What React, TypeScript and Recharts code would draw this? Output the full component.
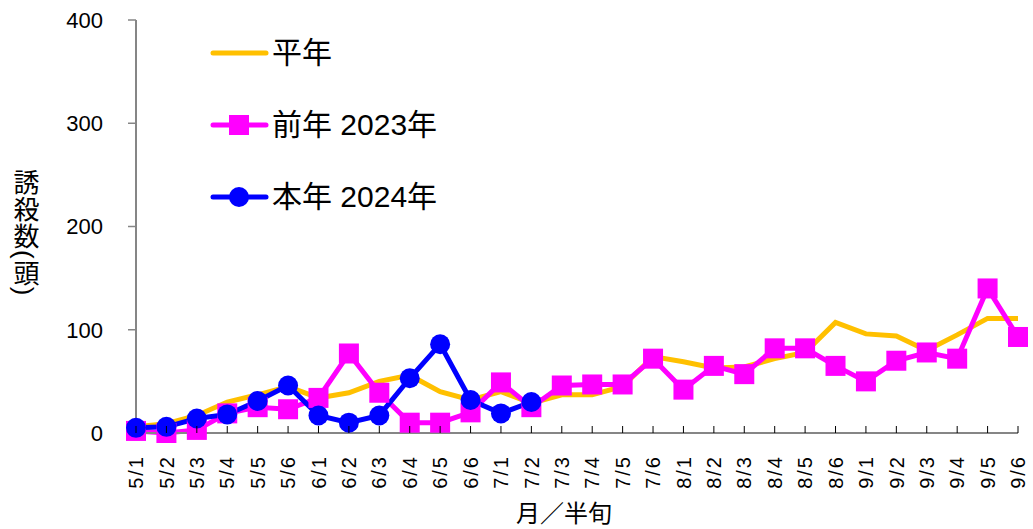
import React from 'react';
import { LineChart, Line, XAxis, YAxis } from 'recharts';

const categories = ['5/1','5/2','5/3','5/4','5/5','5/6','6/1','6/2','6/3','6/4','6/5','6/6','7/1','7/2','7/3','7/4','7/5','7/6','8/1','8/2','8/3','8/4','8/5','8/6','9/1','9/2','9/3','9/4','9/5','9/6'];
const normalYear = [6,9,17,30,37,45,34,39,50,56,40,32,40,29,37,37,45,74,69,63,64,72,78,107,96,94,80,95,111,111];
const prevYear = [2,0,3,19,25,23,34,77,39,10,10,20,49,25,46,47,47,72,42,65,57,82,82,65,50,70,78,72,140,93];
const thisYear: (number | null)[] = [5,6,14,18,31,46,17,10,17,53,86,32,19,30,null,null,null,null,null,null,null,null,null,null,null,null,null,null,null,null];
const yTicks = [0,100,200,300,400];

const seriesNames = ['平年', '前年 2023年', '本年 2024年'];
const colors = ['#FFC000', '#FF00FF', '#0000FF'];

const data = categories.map((c, i) => ({
  cat: c,
  normal: normalYear[i],
  prev: prevYear[i],
  cur: thisYear[i],
}));

const FONT = "'Liberation Sans', 'Noto Sans CJK JP', sans-serif";

const SquareDot = (props: any) => {
  const { cx, cy, index } = props;
  if (cx == null || cy == null || isNaN(cy)) return <g key={index} />;
  return <rect key={index} x={cx - 10} y={cy - 10} width={20} height={20} fill="#FF00FF" />;
};

const CircleDot = (props: any) => {
  const { cx, cy, index } = props;
  if (cx == null || cy == null || isNaN(cy)) return <g key={index} />;
  return <circle key={index} cx={cx} cy={cy} r={10} fill="#0000FF" />;
};

const XTick = (props: any) => {
  const { x, y, payload } = props;
  const ty = y + 22;
  return (
    <g>
      <line x1={x} x2={x} y1={y} y2={y - 7} stroke="#000" strokeWidth={1} />
      <text x={x} y={ty} transform={`rotate(-90 ${x} ${ty})`} textAnchor="end" dy="0.36em" fontSize={20} letterSpacing={2} fill="#000" fontFamily={FONT}>
        {payload.value}
      </text>
    </g>
  );
};

const LegendBox = () => (
  <div style={{ position: 'absolute', left: 210, top: 17, fontFamily: FONT }}>
    {seriesNames.map((n, i) => (
      <div key={n} style={{ height: 72, display: 'flex', alignItems: 'center' }}>
        <svg width={62} height={30} style={{ display: 'block' }}>
          <line x1={3} x2={56} y1={15} y2={15} stroke={colors[i]} strokeWidth={5} strokeLinecap="round" />
          {i === 1 && <rect x={19} y={5} width={20} height={20} fill={colors[i]} />}
          {i === 2 && <circle cx={29} cy={15} r={10} fill={colors[i]} />}
        </svg>
        <span style={{ fontSize: 30, color: '#000', lineHeight: '30px', whiteSpace: 'nowrap' }}>{n}</span>
      </div>
    ))}
  </div>
);

const YLabel = () => (
  <text x={24} y={169} fontSize={26} letterSpacing={1} fill="#000" fontFamily={FONT} style={{ writingMode: 'vertical-rl' } as any}>
    誘殺数(頭)
  </text>
);

const XLabel = () => (
  <text x={564} y={522} textAnchor="middle" fontSize={24} fill="#000" fontFamily={FONT}>
    月／半旬
  </text>
);

export default function App() {
  return (
    <div style={{ position: 'absolute', left: 0, top: 0, width: 1033, height: 529, background: '#fff', fontFamily: FONT }}>
      <LineChart width={1033} height={529} data={data} margin={{ top: 20, right: 15, left: 0, bottom: 0 }}>
        <XAxis
          dataKey="cat"
          height={96}
          interval={0}
          tickSize={0}
          tickMargin={0}
          tick={<XTick />}
          axisLine={{ stroke: '#868686', strokeWidth: 2 }}
          tickLine={false}
          label={{ content: <XLabel /> } as any}
        />
        <YAxis
          width={136}
          domain={[0, 400]}
          ticks={yTicks}
          interval={0}
          tickSize={8}
          tickMargin={25}
          tick={{ fontSize: 22, fill: '#000', fontFamily: FONT }}
          axisLine={{ stroke: '#868686', strokeWidth: 2 }}
          tickLine={{ stroke: '#868686', strokeWidth: 1.5 }}
          label={{ content: <YLabel /> } as any}
        />
        <Line type="linear" dataKey="normal" stroke="#FFC000" strokeWidth={5} dot={false} isAnimationActive={false} />
        <Line type="linear" dataKey="prev" stroke="#FF00FF" strokeWidth={5} dot={<SquareDot />} activeDot={false} isAnimationActive={false} />
        <Line type="linear" dataKey="cur" stroke="#0000FF" strokeWidth={5} dot={<CircleDot />} activeDot={false} isAnimationActive={false} />
      </LineChart>
      <LegendBox />
    </div>
  );
}
